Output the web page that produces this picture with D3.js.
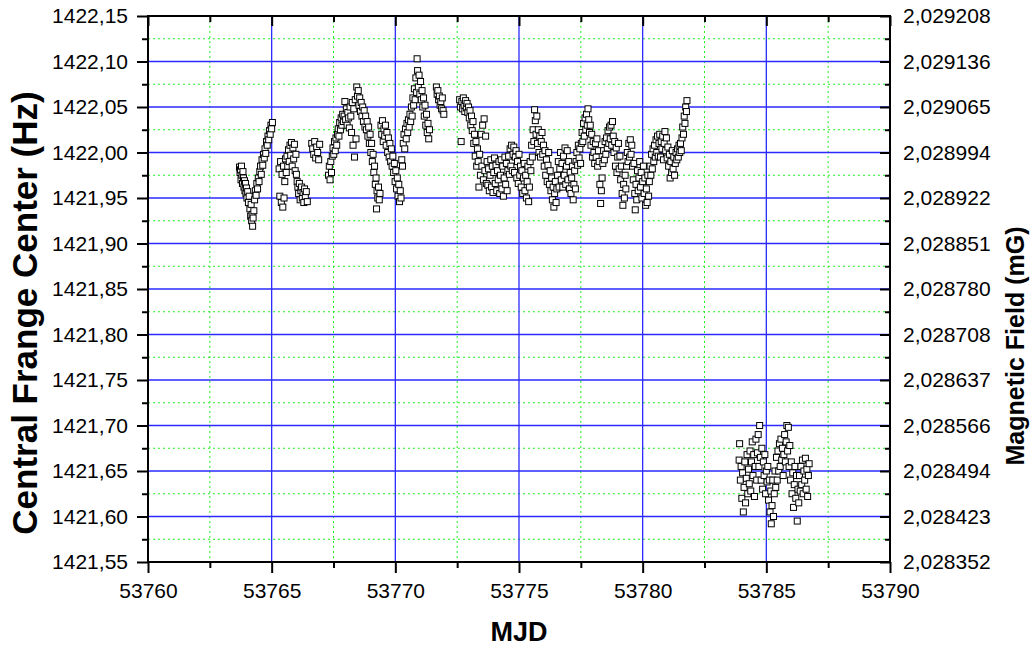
<!DOCTYPE html>
<html>
<head>
<meta charset="utf-8">
<script src="https://cdn.jsdelivr.net/npm/d3@7"></script>
<style>
  body { margin: 0; background: #fff; }
  svg { display: block; font-family: 'Liberation Sans', Arial, sans-serif; }
</style>
</head>
<body>
<script>
// ticks
const xMajor = [53760, 53765, 53770, 53775, 53780, 53785, 53790];
const xMinor = [53762.5, 53767.5, 53772.5, 53777.5, 53782.5, 53787.5];
const yMajor = [1421.55, 1421.60, 1421.65, 1421.70, 1421.75, 1421.80, 1421.85,
  1421.90, 1421.95, 1422.00, 1422.05, 1422.10, 1422.15];
const yMinor = [1421.575, 1421.625, 1421.675, 1421.725, 1421.775, 1421.825,
  1421.875, 1421.925, 1421.975, 1422.025, 1422.075, 1422.125];
// right axis labels (magnetic field, mG), same order as yMajor
const fieldLabels = ['2,028352', '2,028423', '2,028494', '2,028566', '2,028637',
  '2,028708', '2,028780', '2,028851', '2,028922', '2,028994', '2,029065',
  '2,029136', '2,029208'];

// data: [MJD, central frange center (Hz)]
const run1 = [
  [53763.70, 1421.984], [53763.72, 1421.978], [53763.74, 1421.981], [53763.76, 1421.970],
  [53763.78, 1421.985], [53763.80, 1421.975], [53763.82, 1421.966], [53763.84, 1421.979],
  [53763.86, 1421.972], [53763.88, 1421.962], [53763.90, 1421.969], [53763.92, 1421.958],
  [53763.94, 1421.966], [53763.96, 1421.955], [53763.98, 1421.961], [53764.00, 1421.950],
  [53764.03, 1421.957], [53764.06, 1421.945], [53764.09, 1421.952], [53764.12, 1421.938],
  [53764.15, 1421.930], [53764.17, 1421.943], [53764.19, 1421.925], [53764.21, 1421.932],
  [53764.23, 1421.919], [53764.25, 1421.928], [53764.28, 1421.936], [53764.31, 1421.948],
  [53764.34, 1421.958], [53764.37, 1421.953], [53764.40, 1421.966], [53764.43, 1421.960],
  [53764.46, 1421.972], [53764.49, 1421.968], [53764.52, 1421.979], [53764.55, 1421.985],
  [53764.58, 1421.976], [53764.61, 1421.992], [53764.64, 1421.986], [53764.67, 1421.998],
  [53764.70, 1421.994], [53764.73, 1422.004], [53764.76, 1421.999], [53764.79, 1422.012],
  [53764.82, 1422.008], [53764.85, 1422.018], [53764.88, 1422.014], [53764.91, 1422.024],
  [53764.94, 1422.020], [53764.97, 1422.030], [53765.00, 1422.026], [53765.03, 1422.033]
];
const run2 = [
  [53765.30, 1421.982], [53765.33, 1421.952], [53765.36, 1421.990], [53765.39, 1421.945],
  [53765.42, 1421.976], [53765.45, 1421.940], [53765.48, 1421.985], [53765.50, 1421.950],
  [53765.53, 1421.968], [53765.56, 1421.993], [53765.59, 1421.978], [53765.62, 1421.996],
  [53765.65, 1421.985], [53765.68, 1422.003], [53765.71, 1421.990], [53765.74, 1422.008],
  [53765.77, 1421.997], [53765.80, 1422.011], [53765.83, 1421.985], [53765.86, 1422.005],
  [53765.89, 1421.993], [53765.92, 1422.009], [53765.95, 1421.980], [53765.98, 1421.998],
  [53766.00, 1421.976], [53766.03, 1421.968], [53766.06, 1421.962], [53766.09, 1421.955],
  [53766.12, 1421.966], [53766.15, 1421.948], [53766.18, 1421.958], [53766.21, 1421.962],
  [53766.24, 1421.950], [53766.27, 1421.956], [53766.30, 1421.945], [53766.33, 1421.960],
  [53766.36, 1421.952], [53766.40, 1421.957], [53766.44, 1421.946]
];
const run3 = [
  [53766.62, 1422.010], [53766.66, 1422.004], [53766.70, 1421.998], [53766.74, 1422.012],
  [53766.78, 1421.994], [53766.82, 1422.006], [53766.86, 1422.000], [53766.90, 1421.992],
  [53766.94, 1422.009]
];
const run4 = [
  [53767.30, 1421.975], [53767.33, 1421.985], [53767.36, 1421.970], [53767.39, 1421.990],
  [53767.42, 1421.978], [53767.45, 1421.996], [53767.48, 1422.005], [53767.51, 1421.998],
  [53767.54, 1422.012], [53767.57, 1422.002], [53767.60, 1422.016], [53767.63, 1422.008],
  [53767.66, 1422.020], [53767.69, 1422.026], [53767.72, 1422.018], [53767.75, 1422.033],
  [53767.78, 1422.025], [53767.81, 1422.038], [53767.84, 1422.030], [53767.87, 1422.042],
  [53767.90, 1422.034], [53767.93, 1422.040], [53767.96, 1422.056], [53767.99, 1422.036],
  [53768.02, 1422.048], [53768.05, 1422.030], [53768.08, 1422.044], [53768.11, 1422.038],
  [53768.14, 1422.027], [53768.17, 1422.050], [53768.20, 1422.040], [53768.23, 1422.022],
  [53768.26, 1422.055], [53768.29, 1422.008], [53768.32, 1422.048], [53768.35, 1421.995],
  [53768.38, 1422.058], [53768.41, 1422.015], [53768.44, 1422.072], [53768.47, 1422.062],
  [53768.50, 1422.068], [53768.53, 1422.052], [53768.56, 1422.060], [53768.59, 1422.045],
  [53768.62, 1422.055], [53768.65, 1422.040], [53768.68, 1422.050], [53768.71, 1422.034],
  [53768.74, 1422.046], [53768.77, 1422.028], [53768.80, 1422.040], [53768.83, 1422.025],
  [53768.86, 1422.034], [53768.89, 1422.018], [53768.92, 1422.028], [53768.95, 1422.010],
  [53768.98, 1422.020], [53769.01, 1422.000], [53769.04, 1422.010], [53769.07, 1421.990],
  [53769.10, 1421.998], [53769.13, 1421.978], [53769.16, 1421.985], [53769.19, 1421.965],
  [53769.22, 1421.972], [53769.24, 1421.938], [53769.26, 1421.958], [53769.29, 1421.950],
  [53769.32, 1421.962], [53769.35, 1421.948], [53769.38, 1421.955]
];
const run5 = [
  [53769.42, 1422.030], [53769.45, 1422.020], [53769.48, 1422.035], [53769.51, 1422.012],
  [53769.54, 1422.026], [53769.57, 1422.018], [53769.60, 1422.030], [53769.63, 1422.008],
  [53769.66, 1422.022], [53769.69, 1422.000], [53769.72, 1422.016], [53769.75, 1421.995],
  [53769.78, 1422.010], [53769.81, 1421.990], [53769.84, 1422.004], [53769.87, 1421.985],
  [53769.90, 1421.996], [53769.93, 1421.978], [53769.96, 1421.988], [53769.99, 1421.968],
  [53770.02, 1421.980], [53770.05, 1421.960], [53770.08, 1421.972], [53770.11, 1421.952],
  [53770.14, 1421.965], [53770.17, 1421.946], [53770.20, 1421.958], [53770.23, 1421.950],
  [53770.26, 1421.992], [53770.29, 1421.985]
];
const run6 = [
  [53770.32, 1422.010], [53770.35, 1422.020], [53770.38, 1422.004], [53770.41, 1422.026],
  [53770.44, 1422.015], [53770.47, 1422.032], [53770.50, 1422.022], [53770.53, 1422.036],
  [53770.56, 1422.028], [53770.59, 1422.042], [53770.62, 1422.034], [53770.65, 1422.050],
  [53770.68, 1422.040], [53770.71, 1422.060], [53770.74, 1422.052], [53770.77, 1422.070],
  [53770.80, 1422.058], [53770.83, 1422.082], [53770.86, 1422.066], [53770.88, 1422.103],
  [53770.90, 1422.090], [53770.93, 1422.072], [53770.96, 1422.085], [53770.99, 1422.064],
  [53771.02, 1422.078], [53771.05, 1422.058], [53771.08, 1422.068], [53771.11, 1422.050],
  [53771.14, 1422.060], [53771.17, 1422.040], [53771.20, 1422.052], [53771.23, 1422.030],
  [53771.26, 1422.042], [53771.29, 1422.022], [53771.32, 1422.032], [53771.35, 1422.015],
  [53771.38, 1422.025]
];
const run7 = [
  [53771.66, 1422.072], [53771.69, 1422.064], [53771.72, 1422.068], [53771.75, 1422.058],
  [53771.78, 1422.062], [53771.81, 1422.052], [53771.84, 1422.056], [53771.87, 1422.048],
  [53771.90, 1422.060], [53771.93, 1422.046], [53771.96, 1422.042]
];
const run8 = [
  [53772.60, 1422.058], [53772.63, 1422.050], [53772.66, 1422.012], [53772.69, 1422.056],
  [53772.72, 1422.048], [53772.75, 1422.060], [53772.78, 1422.052], [53772.81, 1422.045],
  [53772.84, 1422.057], [53772.87, 1422.049], [53772.90, 1422.054], [53772.93, 1422.044],
  [53772.96, 1422.050], [53772.99, 1422.038], [53773.02, 1422.046], [53773.05, 1422.030],
  [53773.08, 1422.040], [53773.11, 1422.024], [53773.14, 1422.034], [53773.17, 1422.010],
  [53773.20, 1422.020], [53773.23, 1421.996], [53773.26, 1422.012], [53773.29, 1421.985],
  [53773.32, 1422.004], [53773.35, 1421.990], [53773.38, 1421.962], [53773.41, 1421.998],
  [53773.44, 1421.975], [53773.47, 1422.020], [53773.50, 1421.985], [53773.53, 1422.030],
  [53773.56, 1421.970], [53773.59, 1422.037], [53773.62, 1421.980], [53773.65, 1422.018],
  [53773.68, 1421.966], [53773.71, 1421.990], [53773.74, 1421.964], [53773.77, 1421.982],
  [53773.80, 1421.958], [53773.83, 1421.975], [53773.86, 1421.992], [53773.89, 1421.962],
  [53773.92, 1421.985], [53773.95, 1421.956], [53773.98, 1421.978], [53774.01, 1421.994],
  [53774.04, 1421.966], [53774.07, 1421.986], [53774.10, 1421.958], [53774.13, 1421.980],
  [53774.16, 1421.970], [53774.19, 1421.990], [53774.22, 1421.955], [53774.25, 1421.975],
  [53774.28, 1421.992], [53774.31, 1421.960], [53774.34, 1421.985], [53774.37, 1421.952],
  [53774.40, 1421.972], [53774.43, 1421.995], [53774.46, 1421.965], [53774.49, 1421.988],
  [53774.52, 1421.958], [53774.55, 1421.980], [53774.58, 1421.996], [53774.61, 1421.976],
  [53774.64, 1422.004], [53774.67, 1421.985], [53774.70, 1422.008], [53774.73, 1421.980],
  [53774.76, 1421.998], [53774.79, 1422.006], [53774.82, 1421.978], [53774.85, 1421.995],
  [53774.88, 1422.002], [53774.91, 1421.972], [53774.94, 1421.990], [53774.97, 1421.966],
  [53775.00, 1421.998], [53775.03, 1421.975], [53775.06, 1421.985], [53775.09, 1421.962],
  [53775.12, 1421.980], [53775.15, 1421.955], [53775.18, 1421.972], [53775.21, 1421.988],
  [53775.24, 1421.958], [53775.27, 1421.975], [53775.30, 1421.950], [53775.33, 1421.968],
  [53775.36, 1421.985], [53775.39, 1421.946], [53775.42, 1421.962], [53775.45, 1421.990],
  [53775.48, 1421.980], [53775.51, 1422.008], [53775.54, 1421.995], [53775.57, 1422.025],
  [53775.60, 1422.012], [53775.63, 1422.047], [53775.66, 1422.035], [53775.69, 1422.020],
  [53775.72, 1422.040], [53775.75, 1422.010], [53775.78, 1422.025], [53775.81, 1422.000],
  [53775.84, 1422.018], [53775.87, 1421.995], [53775.90, 1422.012], [53775.93, 1422.022],
  [53775.96, 1421.998], [53775.99, 1422.008], [53776.02, 1421.985], [53776.05, 1422.002],
  [53776.08, 1421.975], [53776.11, 1421.992], [53776.14, 1421.968], [53776.17, 1421.986],
  [53776.20, 1422.000], [53776.23, 1421.965], [53776.26, 1421.980], [53776.29, 1421.958],
  [53776.32, 1421.972], [53776.35, 1421.948], [53776.38, 1421.962], [53776.41, 1421.940],
  [53776.44, 1421.955], [53776.47, 1421.968], [53776.50, 1421.945], [53776.53, 1421.960],
  [53776.56, 1421.975], [53776.59, 1421.990], [53776.62, 1421.962], [53776.65, 1421.982],
  [53776.68, 1422.000], [53776.71, 1421.970], [53776.74, 1421.988], [53776.77, 1421.962],
  [53776.80, 1421.996], [53776.83, 1421.975], [53776.86, 1422.005], [53776.89, 1421.965],
  [53776.92, 1421.985], [53776.95, 1422.002], [53776.98, 1421.970], [53777.01, 1421.990],
  [53777.04, 1421.960], [53777.07, 1421.978], [53777.10, 1421.955], [53777.13, 1421.972],
  [53777.16, 1421.985], [53777.19, 1421.948], [53777.22, 1421.965], [53777.25, 1421.980],
  [53777.28, 1421.960], [53777.31, 1421.990], [53777.34, 1422.000], [53777.37, 1421.986],
  [53777.40, 1422.008], [53777.43, 1421.994], [53777.46, 1422.004], [53777.49, 1421.988],
  [53777.52, 1422.010], [53777.55, 1422.022], [53777.58, 1422.012], [53777.61, 1422.032],
  [53777.64, 1422.018], [53777.67, 1422.038], [53777.70, 1422.025], [53777.73, 1422.042],
  [53777.76, 1422.030], [53777.79, 1422.048], [53777.82, 1422.036], [53777.85, 1422.022],
  [53777.88, 1422.030], [53777.91, 1422.008], [53777.94, 1422.020], [53777.97, 1421.995],
  [53778.00, 1422.012], [53778.03, 1422.000], [53778.06, 1421.988], [53778.09, 1422.010],
  [53778.12, 1421.995], [53778.15, 1422.015], [53778.18, 1421.985], [53778.21, 1422.002],
  [53778.24, 1421.990], [53778.27, 1421.965], [53778.30, 1421.944], [53778.33, 1421.958],
  [53778.36, 1421.972], [53778.39, 1421.988], [53778.42, 1422.002], [53778.45, 1421.992],
  [53778.48, 1422.012], [53778.51, 1421.998], [53778.54, 1422.016], [53778.57, 1422.005],
  [53778.60, 1422.024], [53778.63, 1422.010], [53778.66, 1422.028], [53778.69, 1422.015],
  [53778.72, 1422.030], [53778.75, 1422.008], [53778.78, 1422.034], [53778.81, 1422.018],
  [53778.84, 1422.000], [53778.87, 1422.012], [53778.90, 1421.985], [53778.93, 1422.005],
  [53778.96, 1421.978], [53778.99, 1421.995], [53779.02, 1422.010], [53779.05, 1421.982],
  [53779.08, 1421.996], [53779.11, 1421.970], [53779.14, 1421.985], [53779.17, 1421.955],
  [53779.20, 1421.942], [53779.23, 1421.965], [53779.26, 1421.950], [53779.29, 1421.975],
  [53779.32, 1421.960], [53779.35, 1421.985], [53779.38, 1422.000], [53779.41, 1421.990],
  [53779.44, 1422.010], [53779.47, 1421.995], [53779.50, 1422.014], [53779.53, 1421.998],
  [53779.56, 1422.008], [53779.59, 1421.985], [53779.62, 1421.970], [53779.65, 1421.988],
  [53779.68, 1421.955], [53779.70, 1421.937], [53779.73, 1421.965], [53779.76, 1421.948],
  [53779.79, 1421.980], [53779.82, 1421.958], [53779.85, 1421.972], [53779.88, 1421.990],
  [53779.91, 1421.962], [53779.94, 1421.978], [53779.97, 1421.950], [53780.00, 1421.968],
  [53780.03, 1421.985], [53780.06, 1421.955], [53780.09, 1421.972], [53780.12, 1421.942],
  [53780.15, 1421.960], [53780.18, 1421.945], [53780.21, 1421.975], [53780.24, 1421.952],
  [53780.27, 1421.968], [53780.30, 1421.985], [53780.33, 1421.975], [53780.36, 1421.998],
  [53780.39, 1421.982], [53780.42, 1422.004], [53780.45, 1421.990], [53780.48, 1422.008],
  [53780.51, 1421.995], [53780.54, 1422.014], [53780.57, 1422.000], [53780.60, 1422.018],
  [53780.63, 1421.996], [53780.66, 1422.010], [53780.69, 1422.020], [53780.72, 1421.995],
  [53780.75, 1422.012], [53780.78, 1422.004], [53780.81, 1422.018], [53780.84, 1421.992],
  [53780.87, 1422.010], [53780.90, 1422.023], [53780.93, 1422.002], [53780.96, 1422.016],
  [53780.99, 1421.994], [53781.02, 1422.006], [53781.05, 1421.985], [53781.08, 1421.998],
  [53781.11, 1421.972], [53781.14, 1421.990], [53781.17, 1421.978], [53781.20, 1422.002],
  [53781.23, 1421.982], [53781.26, 1421.995], [53781.29, 1421.975], [53781.32, 1421.988],
  [53781.35, 1422.000], [53781.38, 1421.992], [53781.41, 1422.004], [53781.44, 1421.995],
  [53781.47, 1422.008], [53781.50, 1422.000], [53781.53, 1422.010], [53781.56, 1422.002],
  [53781.59, 1422.016], [53781.62, 1422.028], [53781.65, 1422.020], [53781.68, 1422.040],
  [53781.71, 1422.032], [53781.74, 1422.050], [53781.77, 1422.045], [53781.79, 1422.057]
];
const run9 = [
  [53783.90, 1421.662], [53783.92, 1421.680], [53783.95, 1421.640], [53783.98, 1421.655],
  [53784.01, 1421.620], [53784.04, 1421.648], [53784.07, 1421.605], [53784.10, 1421.632],
  [53784.13, 1421.660], [53784.16, 1421.615], [53784.19, 1421.642], [53784.22, 1421.668],
  [53784.25, 1421.625], [53784.28, 1421.652], [53784.31, 1421.636], [53784.34, 1421.672],
  [53784.37, 1421.628], [53784.40, 1421.660], [53784.43, 1421.682], [53784.46, 1421.645],
  [53784.49, 1421.668], [53784.52, 1421.622], [53784.55, 1421.655], [53784.58, 1421.685],
  [53784.61, 1421.640], [53784.64, 1421.670], [53784.67, 1421.690], [53784.70, 1421.655],
  [53784.73, 1421.700], [53784.76, 1421.665], [53784.79, 1421.640], [53784.82, 1421.675],
  [53784.85, 1421.630], [53784.88, 1421.660], [53784.91, 1421.645], [53784.94, 1421.668],
  [53784.97, 1421.625], [53785.00, 1421.650], [53785.03, 1421.638], [53785.06, 1421.655],
  [53785.09, 1421.618], [53785.12, 1421.640], [53785.15, 1421.605], [53785.18, 1421.628],
  [53785.20, 1421.592], [53785.23, 1421.612], [53785.26, 1421.640], [53785.29, 1421.600],
  [53785.32, 1421.625], [53785.35, 1421.650], [53785.38, 1421.632], [53785.41, 1421.665],
  [53785.44, 1421.640], [53785.47, 1421.672], [53785.50, 1421.650], [53785.53, 1421.680],
  [53785.56, 1421.655], [53785.59, 1421.685], [53785.62, 1421.662], [53785.65, 1421.675],
  [53785.68, 1421.645], [53785.71, 1421.668], [53785.74, 1421.690], [53785.77, 1421.660],
  [53785.80, 1421.682], [53785.83, 1421.700], [53785.86, 1421.672], [53785.89, 1421.698],
  [53785.92, 1421.655], [53785.95, 1421.678], [53785.98, 1421.640], [53786.01, 1421.660],
  [53786.04, 1421.625], [53786.07, 1421.648], [53786.10, 1421.610], [53786.13, 1421.635],
  [53786.16, 1421.655], [53786.19, 1421.620], [53786.22, 1421.645], [53786.25, 1421.595],
  [53786.28, 1421.630], [53786.31, 1421.615], [53786.34, 1421.645], [53786.37, 1421.628],
  [53786.40, 1421.655], [53786.43, 1421.635], [53786.46, 1421.662], [53786.49, 1421.625],
  [53786.52, 1421.650], [53786.55, 1421.640], [53786.58, 1421.664], [53786.61, 1421.630],
  [53786.64, 1421.652], [53786.67, 1421.622], [53786.70, 1421.645], [53786.73, 1421.658]
];
const runs = [run1, run2, run3, run4, run5, run6, run7, run8, run9];

const width = 1036;
const height = 647;
const plotLeft = 148;
const plotRight = 890;
const plotTop = 16;
const plotBottom = 562;

const svg = d3.select('body').append('svg').attr('width', width).attr('height', height);

const xScale = d3.scaleLinear().domain([53760, 53790]).range([plotLeft, plotRight]);
const yScale = d3.scaleLinear().domain([1421.55, 1422.15]).range([plotBottom, plotTop]);

const fmt = d3.formatLocale({ decimal: ',', thousands: '.', grouping: [3], currency: ['', ''] }).format('.2f');

// grid: minor dotted green, major solid blue
const grid = svg.append('g').attr('class', 'grid');
grid.selectAll('.gx-minor').data(xMinor).enter().append('line')
  .attr('x1', (d) => xScale(d)).attr('x2', (d) => xScale(d))
  .attr('y1', plotTop).attr('y2', plotBottom)
  .style('stroke', '#22ee22').style('stroke-width', 1).style('stroke-dasharray', '2,3');
grid.selectAll('.gy-minor').data(yMinor).enter().append('line')
  .attr('x1', plotLeft).attr('x2', plotRight)
  .attr('y1', (d) => yScale(d)).attr('y2', (d) => yScale(d))
  .style('stroke', '#22ee22').style('stroke-width', 1).style('stroke-dasharray', '2,3');
grid.selectAll('.gx-major').data(xMajor.slice(1, -1)).enter().append('line')
  .attr('x1', (d) => xScale(d)).attr('x2', (d) => xScale(d))
  .attr('y1', plotTop).attr('y2', plotBottom)
  .style('stroke', '#2a2aff').style('stroke-width', 1.3);
grid.selectAll('.gy-major').data(yMajor.slice(1, -1)).enter().append('line')
  .attr('x1', plotLeft).attr('x2', plotRight)
  .attr('y1', (d) => yScale(d)).attr('y2', (d) => yScale(d))
  .style('stroke', '#2a2aff').style('stroke-width', 1.3);

// scatter
const pts = svg.append('g').attr('class', 'points');
runs.forEach((run) => {
  pts.selectAll(null).data(run).enter().append('rect')
    .attr('x', (d) => xScale(d[0]) - 3)
    .attr('y', (d) => yScale(d[1]) - 3)
    .attr('width', 6)
    .attr('height', 6)
    .style('fill', '#fff')
    .style('stroke', '#000')
    .style('stroke-width', 1);
});

// axes
const styleAxis = (g) => {
  g.select('.domain').remove();
  g.selectAll('.tick line').style('stroke', '#000').style('stroke-width', 2);
  g.attr('font-family', "'Liberation Sans', Arial, sans-serif").attr('font-size', 21);
  g.selectAll('text').style('fill', '#000');
};

svg.append('g').attr('transform', `translate(${plotLeft},0)`)
  .call(d3.axisLeft(yScale).tickValues(yMajor).tickFormat(fmt).tickSize(11).tickPadding(9))
  .call(styleAxis);
svg.append('g').attr('transform', `translate(${plotLeft},0)`)
  .call(d3.axisLeft(yScale).tickValues(yMinor).tickFormat('').tickSize(6))
  .call(styleAxis);

svg.append('g').attr('transform', `translate(0,${plotBottom})`)
  .call(d3.axisBottom(xScale).tickValues(xMajor).tickFormat((d) => String(d)).tickSize(11).tickPadding(10))
  .call(styleAxis);
svg.append('g').attr('transform', `translate(0,${plotBottom})`)
  .call(d3.axisBottom(xScale).tickValues(xMinor).tickFormat('').tickSize(6))
  .call(styleAxis);

svg.append('g').attr('transform', `translate(0,${plotTop})`)
  .call(d3.axisTop(xScale).tickValues(xMajor).tickFormat('').tickSize(-10))
  .call(styleAxis);
svg.append('g').attr('transform', `translate(0,${plotTop})`)
  .call(d3.axisTop(xScale).tickValues(xMinor).tickFormat('').tickSize(-6))
  .call(styleAxis);

svg.append('g').attr('transform', `translate(${plotRight},0)`)
  .call(d3.axisRight(yScale).tickValues(yMajor).tickFormat((d, i) => fieldLabels[i]).tickSize(-10).tickPadding(13))
  .call(styleAxis);
svg.append('g').attr('transform', `translate(${plotRight},0)`)
  .call(d3.axisRight(yScale).tickValues(yMinor).tickFormat('').tickSize(-5))
  .call(styleAxis);

// frame
svg.append('rect')
  .attr('x', plotLeft).attr('y', plotTop)
  .attr('width', plotRight - plotLeft).attr('height', plotBottom - plotTop)
  .style('fill', 'none').style('stroke', '#000').style('stroke-width', 2);

// titles
svg.append('text')
  .attr('x', (plotLeft + plotRight) / 2).attr('y', 641)
  .attr('text-anchor', 'middle')
  .style('font-weight', 'bold').style('font-size', '27px')
  .text('MJD');

svg.append('text')
  .attr('transform', 'translate(37,313) rotate(-90)')
  .attr('text-anchor', 'middle')
  .style('font-weight', 'bold').style('font-size', '35px')
  .text('Central Frange Center  (Hz)');

svg.append('text')
  .attr('transform', 'translate(1024,346) rotate(-90)')
  .attr('text-anchor', 'middle')
  .style('font-weight', 'bold').style('font-size', '25px')
  .text('Magnetic Field  (mG)');
</script>
</body>
</html>
